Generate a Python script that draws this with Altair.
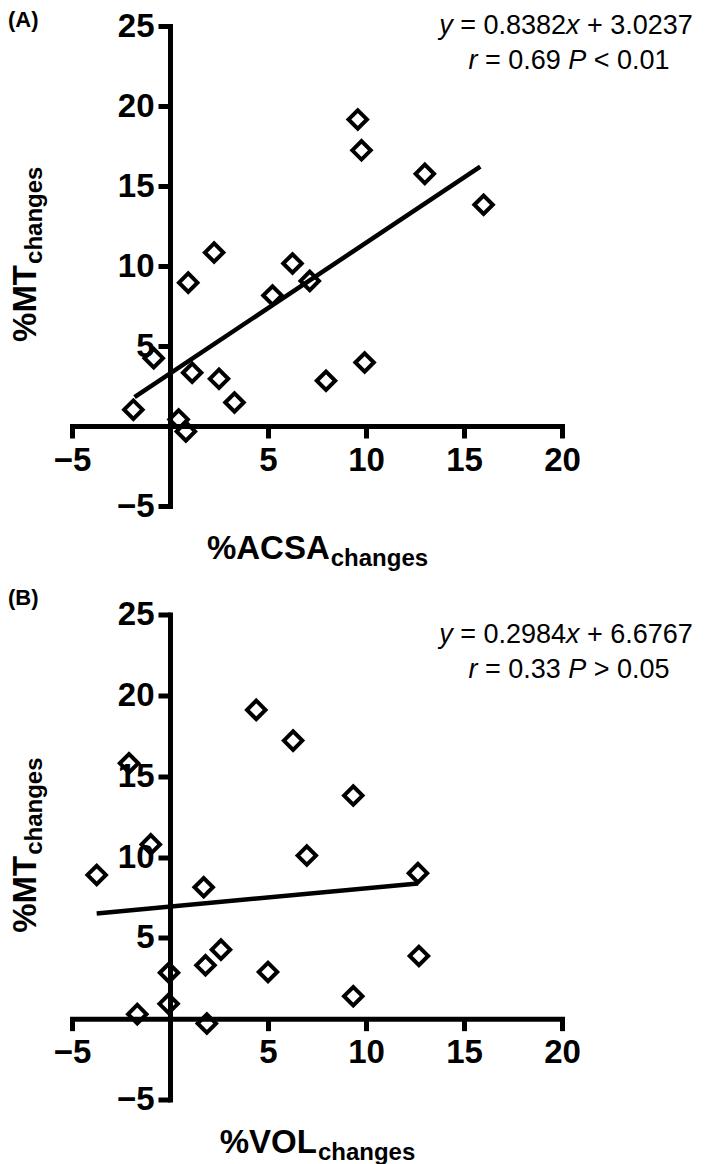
import altair as alt
import pandas as pd

# ---------------- data ----------------
# Panel A: %ACSA changes vs %MT changes
acsa_x = [-1.87, -0.83, 0.44, 0.81, 0.93, 1.13, 2.25, 2.50, 3.29, 5.23,
          6.25, 7.13, 7.96, 9.58, 9.77, 9.93, 13.00, 16.00]
acsa_mt = [1.02, 4.24, 0.41, -0.34, 8.96, 3.33, 10.84, 2.95, 1.47, 8.16,
           10.16, 9.07, 2.83, 19.16, 17.23, 3.97, 15.76, 13.83]
fitA_x = [-1.81, 15.83]
fitA_y = [1.81, 16.21]

# Panel B: %VOL changes vs %MT changes
vol_x = [4.40, 6.28, -2.09, 9.35, -0.98, 6.98, -3.74, 12.65, 1.72, 2.60,
         12.70, 1.81, -0.05, 5.00, 9.35, -0.07, -1.67, 1.88]
vol_mt = [19.10, 17.20, 15.80, 13.80, 10.78, 10.09, 8.89, 9.00, 8.13, 4.27,
          3.88, 3.30, 2.84, 2.89, 1.39, 0.92, 0.28, -0.30]
fitB_x = [-3.74, 12.65]
fitB_y = [6.51, 8.36]

x_ticks = [-5, 5, 10, 15, 20]
y_ticks = [-5, 5, 10, 15, 20, 25]
x_domain = [-5, 20]
y_domain = [-5, 25]

# (text, style, space after?)
eqA = [("y", "italic", True), ("= 0.8382", "normal", False), ("x", "italic", True), ("+ 3.0237", "normal", False)]
rA = [("r", "italic", True), ("= 0.69", "normal", True), ("P", "italic", True), ("< 0.01", "normal", False)]
eqB = [("y", "italic", True), ("= 0.2984", "normal", False), ("x", "italic", True), ("+ 6.6767", "normal", False)]
rB = [("r", "italic", True), ("= 0.33", "normal", True), ("P", "italic", True), ("> 0.05", "normal", False)]

# ---------------- layout helpers ----------------
FONT = "Liberation Sans"
W = 490
ARIAL = {" ": 0.278, "=": 0.584, "+": 0.584, "<": 0.584, ">": 0.584, ".": 0.278,
         "x": 0.5, "y": 0.5, "r": 0.333, "P": 0.667}


def tw(s, size):
    return sum(ARIAL.get(c, 0.556) for c in s) * size


def txt(text, x, y, size, weight="normal", style="normal", align="left",
        baseline="alphabetic", angle=0):
    return alt.Chart(pd.DataFrame({"t": [text]})).mark_text(
        align=align, baseline=baseline, fontSize=size, fontWeight=weight,
        fontStyle=style, font=FONT, color="black", angle=angle
    ).encode(x=alt.value(x), y=alt.value(y), text="t:N")


def eq_line(parts, cx, y, size):
    gap = ARIAL[" "] * size
    total = sum(tw(p, size) + (gap if sp else 0) for p, _, sp in parts)
    x = cx - total / 2
    out = []
    for p, st, sp in parts:
        out.append(txt(p, x, y, size, style=st))
        x += tw(p, size) + (gap if sp else 0)
    return out


def panel(tag, xs, ys, fx, fy, xmain, H, tag_y, ann_y1, ann_y2, eq, rr):
    xsc = alt.Scale(domain=x_domain, nice=False, zero=False)
    ysc = alt.Scale(domain=y_domain, nice=False, zero=False)
    common = dict(grid=False, title=None, domainColor="black", domainWidth=5,
                  domainCap="square", tickColor="black", tickWidth=5, tickSize=12,
                  labelFont=FONT, labelFontWeight="bold", labelFontSize=33,
                  labelColor="black", labelOverlap=False)
    xax = alt.Axis(values=x_ticks, labelPadding=6, labelFlush=False,
                   offset=-(H * 5 / 30), **common)
    yax = alt.Axis(values=y_ticks, labelPadding=4, offset=-(W * 5 / 25), **common)

    pts = alt.Chart(pd.DataFrame({"x": xs, "y": ys})).mark_point(
        shape="diamond", filled=False, size=340, strokeWidth=4, color="black", opacity=1
    ).encode(x=alt.X("x:Q", scale=xsc, axis=xax), y=alt.Y("y:Q", scale=ysc, axis=yax))
    line = alt.Chart(pd.DataFrame({"x": fx, "y": fy})).mark_line(
        color="black", strokeWidth=4.5
    ).encode(x=alt.X("x:Q", scale=xsc, axis=xax), y=alt.Y("y:Q", scale=ysc, axis=yax))

    layers = [line, pts]
    layers.append(txt(tag, -64, tag_y, 22, weight="bold", baseline="top"))
    # y title (rotated, with subscript)
    start = 0.477 * H + 87
    mt_w = 2.333 * 33
    layers.append(txt("%MT", -36, start, 33, weight="bold", angle=270))
    layers.append(txt("changes", -30, start - mt_w - 1, 24, weight="bold", angle=270))
    # x title
    main_w = {"%ACSA": 3.722 * 33, "%VOL": 2.945 * 33}[xmain]
    sub_w = 4.057 * 24
    x0 = W / 2 - (main_w + sub_w) / 2
    layers.append(txt(xmain, x0, H + 53, 33, weight="bold"))
    layers.append(txt("changes", x0 + main_w + 1, H + 60, 24, weight="bold"))
    # equation annotation
    layers += eq_line(eq, 494, ann_y1, 27)
    layers += eq_line(rr, 497, ann_y2, 27)
    return alt.layer(*layers).properties(width=W, height=H)


HA, HB = 480, 485
A = panel("(A)", acsa_x, acsa_mt, fitA_x, fitA_y, "%ACSA", HA, -16.5, 7.5, 42.5, eqA, rA)
B = panel("(B)", vol_x, vol_mt, fitB_x, fitB_y, "%VOL", HB, -27, 28, 63, eqB, rB)

chart = alt.vconcat(A, B, spacing=108.5, bounds="flush").properties(
    padding=0, background="white"
).configure_view(strokeWidth=0)

chart.save("out.html", embed_options={"renderer": "svg", "actions": False})
